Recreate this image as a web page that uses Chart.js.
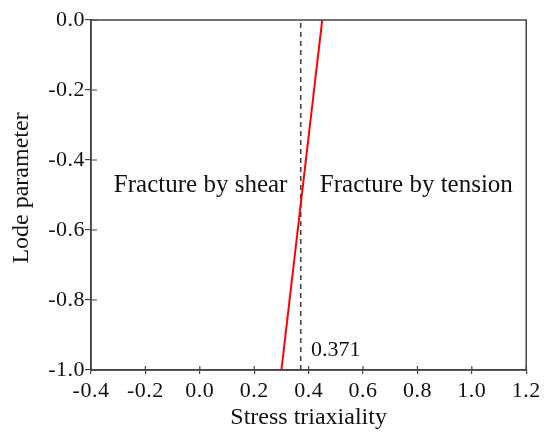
<!DOCTYPE html>
<html>
<head>
<meta charset="utf-8">
<script src="https://cdn.jsdelivr.net/npm/chart.js@4/dist/chart.umd.min.js"></script>
<style>
  html, body { margin: 0; padding: 0; background: #fff; }
  #wrap { width: 544px; height: 438px; position: relative; }
</style>
</head>
<body>
<div id="wrap"><canvas id="c" width="544" height="438"></canvas></div>
<script>
// Fracture criterion boundary (stress triaxiality vs Lode parameter)
const boundaryX = [0.30, 0.45];
const boundaryY = [-1.0, 0.0];
// Reference triaxiality marked by the dashed line
const refX = [0.371, 0.371];
const refY = [-1.0, 0.0];
const xTicks = [-0.4, -0.2, 0.0, 0.2, 0.4, 0.6, 0.8, 1.0, 1.2];
const yTicks = [-1.0, -0.8, -0.6, -0.4, -0.2, 0.0];
const regionLabels = [
  { text: 'Fracture by shear', x: 0.003, y: -0.491, size: 25, align: 'center' },
  { text: 'Fracture by tension', x: 0.796, y: -0.491, size: 25, align: 'center' },
  { text: '0.371', x: 0.409, y: -0.961, size: 22, align: 'left' }
];
const xTitle = 'Stress triaxiality';
const yTitle = 'Lode parameter';

const FONT = '"Liberation Serif", "Times New Roman", serif';
const AXIS = '#444444';
const INK = '#111111';

const toPts = (xs, ys) => xs.map((x, i) => ({ x, y: ys[i] }));

// Slightly wider tracking for the numeric tick labels
const tracking = {
  id: 'tracking',
  beforeDraw(chart) { chart.ctx.letterSpacing = '0.5px'; },
  afterDraw(chart) { chart.ctx.letterSpacing = '0px'; }
};

// Frame, inward tick stubs, axis titles and region labels
const decor = {
  id: 'decor',
  afterDraw(chart) {
    const { ctx, chartArea: a, scales: { x, y } } = chart;
    ctx.save();
    ctx.letterSpacing = '0px';
    ctx.strokeStyle = AXIS;
    ctx.lineWidth = 1.5;
    ctx.strokeRect(a.left, a.top, a.right - a.left, a.bottom - a.top);
    ctx.lineWidth = 1.2;
    ctx.beginPath();
    xTicks.forEach(v => { const px = x.getPixelForValue(v); ctx.moveTo(px, a.bottom); ctx.lineTo(px, a.bottom - 4); });
    yTicks.forEach(v => { const py = y.getPixelForValue(v); ctx.moveTo(a.left, py); ctx.lineTo(a.left + 6, py); });
    ctx.stroke();

    ctx.fillStyle = INK;
    ctx.textBaseline = 'alphabetic';
    regionLabels.forEach(l => {
      ctx.font = l.size + 'px ' + FONT;
      ctx.textAlign = l.align;
      ctx.fillText(l.text, x.getPixelForValue(l.x), y.getPixelForValue(l.y));
    });

    ctx.font = '24px ' + FONT;
    ctx.textAlign = 'center';
    ctx.fillText(xTitle, (a.left + a.right) / 2, 424);
    ctx.save();
    ctx.translate(28, 188);
    ctx.rotate(-Math.PI / 2);
    ctx.fillText(yTitle, 0, 0);
    ctx.restore();
    ctx.restore();
  }
};

new Chart(document.getElementById('c'), {
  type: 'scatter',
  data: {
    datasets: [
      {
        data: toPts(boundaryX, boundaryY),
        showLine: true,
        borderColor: '#ff0000',
        borderWidth: 2,
        pointRadius: 0
      },
      {
        data: toPts(refX, refY),
        showLine: true,
        borderColor: '#444444',
        borderWidth: 1.6,
        borderDash: [5, 4],
        pointRadius: 0
      }
    ]
  },
  options: {
    responsive: false,
    animation: false,
    layout: { padding: { top: 20, right: 16, left: 0, bottom: 0 } },
    plugins: { legend: { display: false }, tooltip: { enabled: false } },
    scales: {
      x: {
        type: 'linear',
        min: -0.4, max: 1.2,
        afterBuildTicks: s => { s.ticks = xTicks.map(v => ({ value: v })); },
        afterFit: s => { s.height = 68; },
        border: { display: true, color: AXIS, width: 1.5 },
        grid: { drawOnChartArea: false, drawTicks: true, tickLength: 4, color: AXIS, lineWidth: 1.2 },
        ticks: {
          color: INK, padding: 4,
          font: { family: FONT, size: 22 },
          callback: v => v.toFixed(1)
        }
      },
      y: {
        type: 'linear',
        min: -1.0, max: 0.0,
        afterBuildTicks: s => { s.ticks = yTicks.map(v => ({ value: v })); },
        afterFit: s => { s.width = 91; },
        border: { display: true, color: AXIS, width: 1.5 },
        grid: { drawOnChartArea: false, drawTicks: true, tickLength: 6, color: AXIS, lineWidth: 1.2 },
        ticks: {
          color: INK, padding: 0,
          font: { family: FONT, size: 22 },
          callback: v => v.toFixed(1)
        }
      }
    }
  },
  plugins: [tracking, decor]
});
</script>
</body>
</html>
